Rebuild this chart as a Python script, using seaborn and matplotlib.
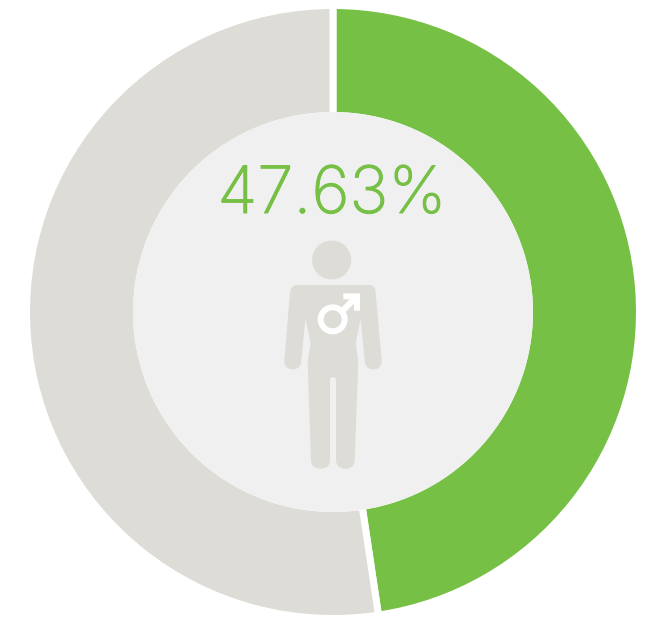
import matplotlib
matplotlib.use("Agg")
import matplotlib.pyplot as plt
import matplotlib.patheffects as pe
import seaborn as sns
from matplotlib.patches import Circle, PathPatch, Polygon
from matplotlib.path import Path

# -------------------------------
# Data
# -------------------------------
labels = ["Male", "Other"]
shares = [47.63, 52.37]
center_label = "47.63%"

green = "#76c045"
stone = "#dddcd6"
pale = "#f0f0f1"

W, H = 649, 617
CX, CY = 333, H - 312


def zoomed(x, y):
    return x / 3 + 260, H - (y / 3 + 230)


# -------------------------------
# Figure
# -------------------------------
sns.set_theme(style="white")
fig = plt.figure(figsize=(W / 100, H / 100), dpi=100)
ax = fig.add_axes([0, 0, 1, 1])

# edge line eats 3.5 px on each side, so the ring is drawn a bit wider
ax.pie(
    shares,
    colors=sns.color_palette([green, stone]),
    startangle=90,
    counterclock=False,
    center=(CX, CY),
    radius=306.5,
    wedgeprops=dict(width=110, edgecolor="white", linewidth=5.04),
)
ax.add_patch(Circle((CX, CY), 200, fc=pale, ec="none", zorder=3))

# Inter light is a bit thin, thicken it slightly
ax.text(332, H - 213, center_label, color=green, fontsize=47, family="Inter",
        weight="light", ha="center", va="baseline", zorder=4,
        path_effects=[pe.withStroke(linewidth=0.7, foreground=green)])

# -------------------------------
# Person icon
# -------------------------------
ax.add_patch(Circle(zoomed(215, 90), 19.5, fc=stone, ec="none", zorder=4))

L, C3 = Path.LINETO, Path.CURVE3
body = [
    ((112, 165), Path.MOVETO),
    ((327, 165), L),
    ((347, 165), C3), ((347, 188), C3),
    ((365, 392), L),
    ((365, 418), C3), ((340, 418), C3),
    ((315, 418), C3), ((314, 392), C3),
    ((302, 265), L),
    ((287, 340), L),
    ((295, 395), L),
    ((284, 690), L),
    ((284, 716), C3), ((256, 716), C3),
    ((228, 716), C3), ((228, 690), C3),
    ((228, 450), L),
    ((228, 441), C3), ((219, 441), C3),
    ((210, 441), C3), ((210, 450), C3),
    ((210, 690), L),
    ((210, 716), C3), ((181, 716), C3),
    ((153, 716), C3), ((153, 690), C3),
    ((143, 395), L),
    ((152, 340), L),
    ((136, 265), L),
    ((124, 392), L),
    ((123, 418), C3), ((98, 418), C3),
    ((73, 418), C3), ((73, 392), C3),
    ((90, 188), L),
    ((92, 165), C3), ((112, 165), C3),
]
body_path = Path([zoomed(*p) for p, _ in body], [c for _, c in body])
ax.add_patch(PathPatch(body_path, fc=stone, ec="none", zorder=4))

# male sign on the chest
ax.add_patch(Circle(zoomed(218, 268), 12, fc="none", ec="white", lw=4.3, zorder=5))
arrow = [(250, 190), (300, 190), (300, 242), (282, 242), (282, 221),
         (250, 253), (237, 240), (269, 208), (250, 208)]
ax.add_patch(Polygon([zoomed(*p) for p in arrow], closed=True, fc="white", ec="none", zorder=5))

ax.set_xlim(0, W)
ax.set_ylim(0, H)
ax.set_aspect("equal")
ax.axis("off")

fig.savefig("out.png", dpi=100, facecolor="white")
plt.close(fig)
